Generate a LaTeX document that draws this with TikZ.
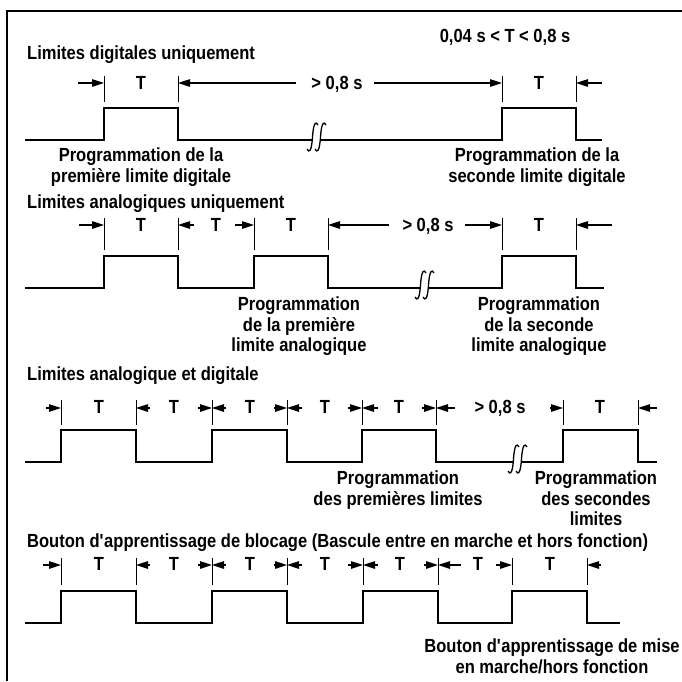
\documentclass[tikz,border=0pt]{standalone}
\usepackage{fontspec}
\setmainfont{Liberation Sans}[FakeStretch=0.87]
\usetikzlibrary{arrows.meta}
\newcommand\dfont{\fontsize{19}{20.5}\selectfont\bfseries}
\begin{document}
\begin{tikzpicture}[x=1pt,y=-1pt,
  every node/.style={inner sep=0pt,font=\dfont},
  lbl/.style={align=center,anchor=north},
  frameline/.style={line width=2.5pt},
  sig/.style={line width=1.8pt,line join=miter},
  tick/.style={line width=0.8pt},
  dim/.style={line width=1.1pt,-{Triangle[length=12pt,width=7.5pt]}},
  brk/.pic={
    \draw[line width=1.3pt] (6,-15) .. controls (4,-19) and (1.5,-18) .. (0.5,-3) .. controls (-0.5,12) and (-3,13) .. (-5,9);
    \draw[line width=1.3pt] (14,-15) .. controls (12,-19) and (9.5,-18) .. (8.5,-3) .. controls (7.5,12) and (5,13) .. (3,9);
  }]
\useasboundingbox (0,0) rectangle (682,681);
\draw[frameline] (7,681) -- (7,11) -- (682,11);

% ---------- title
\node[anchor=base] (title) at (505,42) {0,04 s < T < 0,8 s};

% ---------- row 1
\node[anchor=base west] (h1) at (27,59) {Limites digitales uniquement};
\foreach \x in {104,178,502,576} \draw[tick] (\x,76) -- (\x,102);
\draw[dim] (78,83) -- (104,83);
\draw[dim] (296,83) -- (178,83);
\draw[dim] (374,83) -- (502,83);
\draw[dim] (602,83) -- (576,83);
\node[anchor=base] (r1t1) at (141,89) {T};
\node[anchor=base] (r1g) at (337,89) {> 0,8 s};
\node[anchor=base] (r1t2) at (539,89) {T};
\draw[sig] (25,140) -- (104,140) -- (104,108) -- (178,108) -- (178,140) -- (312,140);
\pic at (312,140) {brk};
\draw[sig] (320,140) -- (502,140) -- (502,108) -- (576,108) -- (576,140) -- (602,140);
\node[lbl] (r1a) at (141,148) {Programmation de la\\première limite digitale};
\node[lbl] (r1b) at (537,148) {Programmation de la\\seconde limite digitale};

% ---------- row 2
\node[anchor=base west] (h2) at (27,208) {Limites analogiques uniquement};
\foreach \x in {104,178,254,328,502,576} \draw[tick] (\x,218) -- (\x,250);
\draw[dim] (79,225) -- (104,225);
\draw[dim] (194,225) -- (178,225);
\draw[dim] (235,225) -- (254,225);
\draw[dim] (389,225) -- (328,225);
\draw[dim] (465,225) -- (502,225);
\draw[dim] (612,225) -- (576,225);
\node[anchor=base] (r2t1) at (141,231) {T};
\node[anchor=base] (r2t2) at (216,231) {T};
\node[anchor=base] (r2t3) at (291,231) {T};
\node[anchor=base] (r2g) at (428,231) {> 0,8 s};
\node[anchor=base] (r2t4) at (539,231) {T};
\draw[sig] (25,288) -- (104,288) -- (104,256) -- (178,256) -- (178,288) -- (254,288) -- (254,256) -- (328,256) -- (328,288) -- (420,288);
\pic at (420,288) {brk};
\draw[sig] (428,288) -- (502,288) -- (502,256) -- (576,256) -- (576,288) -- (604,288);
\node[lbl] (r2a) at (299,297) {Programmation\\de la première\\limite analogique};
\node[lbl] (r2b) at (539,297) {Programmation\\de la seconde\\limite analogique};

% ---------- row 3
\node[anchor=base west] (h3) at (27,380) {Limites analogique et digitale};
\foreach \x in {61,136,212,287,362,436,563,638} \draw[tick] (\x,400) -- (\x,425);
\draw[dim] (46,408) -- (61,408);
\draw[dim] (150,408) -- (136,408);
\draw[dim] (198,408) -- (212,408);
\draw[dim] (226,408) -- (212,408);
\draw[dim] (274,408) -- (287,408);
\draw[dim] (302,408) -- (287,408);
\draw[dim] (348,408) -- (362,408);
\draw[dim] (378,408) -- (362,408);
\draw[dim] (422,408) -- (436,408);
\draw[dim] (455,408) -- (436,408);
\draw[dim] (550,408) -- (563,408);
\draw[dim] (657,408) -- (638,408);
\node[anchor=base] (r3t1) at (99,413) {T};
\node[anchor=base] (r3t2) at (174,413) {T};
\node[anchor=base] (r3t3) at (250,413) {T};
\node[anchor=base] (r3t4) at (325,413) {T};
\node[anchor=base] (r3t5) at (399,413) {T};
\node[anchor=base] (r3g) at (500,413) {> 0,8 s};
\node[anchor=base] (r3t6) at (600,413) {T};
\draw[sig] (25,462) -- (61,462) -- (61,430) -- (136,430) -- (136,462) -- (212,462) -- (212,430) -- (287,430) -- (287,462) -- (362,462) -- (362,430) -- (436,430) -- (436,462) -- (513,462);
\pic at (513,462) {brk};
\draw[sig] (521,462) -- (563,462) -- (563,430) -- (638,430) -- (638,462) -- (657,462);
\node[lbl] (r3a) at (398,471) {Programmation\\des premières limites};
\node[lbl] (r3b) at (596,471) {Programmation\\des secondes\\limites};

% ---------- row 4
\node[anchor=base west] (h4) at (27,547) {Bouton d\textquotesingle apprentissage de blocage (Bascule entre en marche et hors fonction)};
\foreach \x in {61,136,212,287,363,438,512,587} \draw[tick] (\x,558) -- (\x,585);
\draw[dim] (43,565) -- (61,565);
\draw[dim] (150,565) -- (136,565);
\draw[dim] (198,565) -- (212,565);
\draw[dim] (226,565) -- (212,565);
\draw[dim] (274,565) -- (287,565);
\draw[dim] (302,565) -- (287,565);
\draw[dim] (348,565) -- (363,565);
\draw[dim] (378,565) -- (363,565);
\draw[dim] (424,565) -- (438,565);
\draw[dim] (461,565) -- (438,565);
\draw[dim] (496,565) -- (512,565);
\draw[dim] (601,565) -- (587,565);
\node[anchor=base] (r4t1) at (99,570) {T};
\node[anchor=base] (r4t2) at (174,570) {T};
\node[anchor=base] (r4t3) at (250,570) {T};
\node[anchor=base] (r4t4) at (325,570) {T};
\node[anchor=base] (r4t5) at (400,570) {T};
\node[anchor=base] (r4t6) at (478,570) {T};
\node[anchor=base] (r4t7) at (550,570) {T};
\draw[sig] (25,623) -- (61,623) -- (61,591) -- (136,591) -- (136,623) -- (212,623) -- (212,591) -- (287,591) -- (287,623) -- (363,623) -- (363,591) -- (438,591) -- (438,623) -- (512,623) -- (512,591) -- (587,591) -- (587,623) -- (620,623);
\node[lbl] (r4a) at (552,639) {Bouton d\textquotesingle apprentissage de mise\\en marche/hors fonction};
\end{tikzpicture}
\end{document}
